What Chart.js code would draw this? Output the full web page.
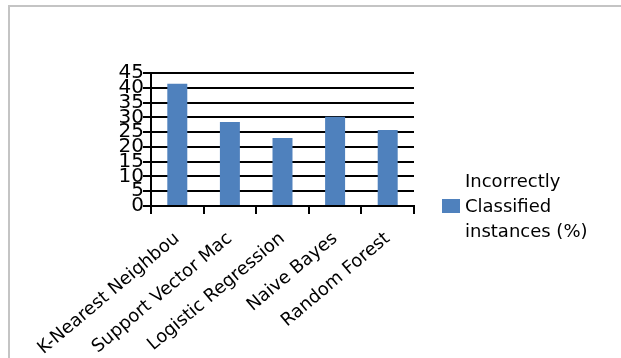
<!DOCTYPE html>
<html>
<head>
<meta charset="utf-8">
<script src="https://cdn.jsdelivr.net/npm/chart.js@4"></script>
<style>
  body { margin: 0; background: #fff; }
  #wrap { position: relative; width: 621px; height: 358px; }
  #frame { position: absolute; left: 8px; top: 5px; right: 0; bottom: 0;
           border-top: 2px solid #c4c4c4; border-left: 2px solid #c4c4c4; }
</style>
</head>
<body>
<div id="wrap">
  <canvas id="myChart" width="621" height="358"></canvas>
  <div id="frame"></div>
</div>
<script>
const categories = ['K-Nearest Neighbou', 'Support Vector Mac', 'Logistic Regression', 'Naive Bayes', 'Random Forest'];
const incorrect = [41.4, 28.4, 23.0, 30.2, 25.7];
const legendLines = ['Incorrectly', 'Classified', 'instances (%)'];

const ctx = document.getElementById('myChart');

// legend drawn by hand so the label can wrap over three lines
const sideLegend = {
  id: 'sideLegend',
  afterDraw(chart) {
    const c = chart.ctx;
    const ds = chart.data.datasets[0];
    c.save();
    c.fillStyle = ds.backgroundColor;
    c.fillRect(442, 199, 18, 14);
    c.fillStyle = '#000';
    c.font = '18px "DejaVu Sans"';
    c.textBaseline = 'middle';
    legendLines.forEach((t, i) => c.fillText(t, 465, 182 + i * 25));
    c.restore();
  }
};

new Chart(ctx, {
  type: 'bar',
  data: {
    labels: categories,
    datasets: [{
      label: legendLines.join(' '),
      data: incorrect,
      backgroundColor: '#4F81BD',
      barPercentage: 0.38,
      categoryPercentage: 1
    }]
  },
  options: {
    responsive: false,
    animation: false,
    layout: { padding: { top: 73, right: 207, left: 0, bottom: 0 } },
    plugins: { legend: { display: false }, tooltip: { enabled: false } },
    scales: {
      y: {
        min: 0,
        max: 45,
        ticks: { stepSize: 5, autoSkip: false, color: '#000', padding: -1,
                 font: { family: 'DejaVu Sans', size: 20 } },
        grid: { color: '#000', lineWidth: 2, tickLength: 8 },
        border: { color: '#000', width: 2 },
        afterFit: (s) => { s.width = 151; }
      },
      x: {
        ticks: { color: '#000', minRotation: 40, maxRotation: 40, autoSkip: false, padding: 14,
                 font: { family: 'DejaVu Sans', size: 18 } },
        grid: { drawOnChartArea: false, color: '#000', lineWidth: 2, tickLength: 8 },
        border: { color: '#000', width: 2 },
        afterFit: (s) => { s.height = 152; }
      }
    }
  },
  plugins: [sideLegend]
});
</script>
</body>
</html>
